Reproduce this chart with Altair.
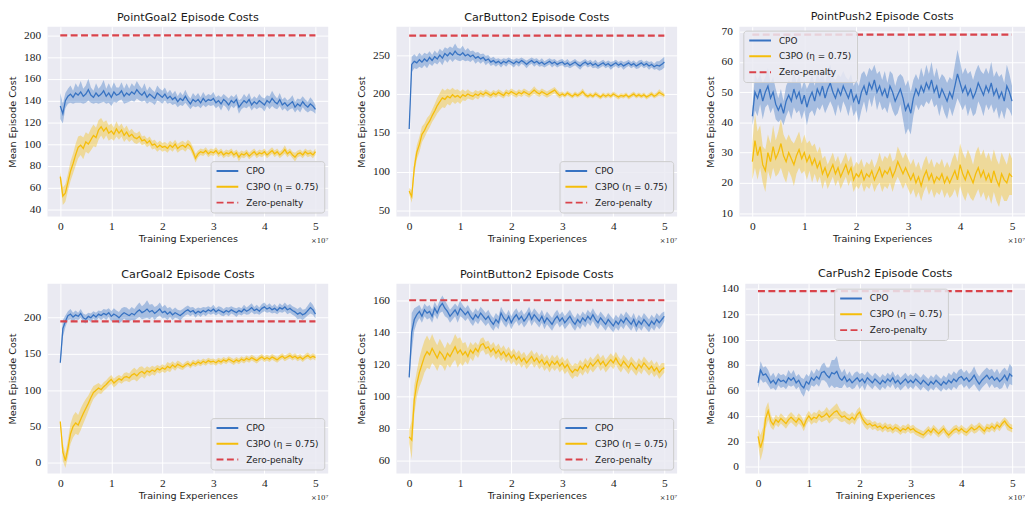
import altair as alt
import pandas as pd

# Training experiences (x 1e7)
X = [round(i * 0.05, 2) for i in range(101)]
SERIES = ["CPO", "C3PO (η = 0.75)", "Zero-penalty"]
COLORS = ["#3873c2", "#f5bd0a", "#d9434b"]

# ---------------- PointGoal2 ----------------
P1_CPO = [135,128,140,144,146,143,147,145,148,144, 146,150,145,143,147,144,146,149,144,147,
          143,148,145,146,149,144,147,145,148,146, 150,147,145,148,143,146,144,142,147,145,
          143,146,142,144,141,143,139,142,140,144, 140,137,141,139,141,138,142,139,141,140,
          142,138,140,137,141,139,136,140,138,141, 134,137,140,138,141,136,139,137,140,138,
          136,140,138,142,139,137,141,136,138,135, 137,139,134,137,135,139,136,134,137,135, 132]
P1_CPO_SD = [12,9,7,7,8,6,9,7,10,7, 8,10,7,6,9,7,8,10,7,9, 8,9,7,6,8,7,9,6,8,7, 8,7,6,8,6,7,6,6,7,6,
             6,6,5,6,5,6,5,6,5,6, 5,5,6,5,6,5,6,5,5,5, 6,5,5,6,5,5,6,5,5,5, 6,5,6,5,6,5,5,5,6,5,
             6,5,6,7,6,5,6,5,5,5, 5,6,5,5,6,5,5,5,6,5, 4]
P1_C3 = [70,52,55,65,75,82,90,97,99,96, 102,100,104,108,106,113,116,112,115,110,
         112,109,114,110,113,108,111,107,109,106, 105,107,103,104,101,103,99,100,97,99,
         97,98,96,99,97,100,96,98,99,97, 100,98,93,87,91,93,92,94,91,93,
         92,94,91,93,90,92,91,93,90,92, 88,91,90,92,89,91,93,90,92,91,
         93,90,92,94,91,93,90,92,95,91, 93,90,88,91,92,90,93,91,92,90, 93]
P1_C3_SD = [4,8,8,8,9,9,10,10,9,10, 9,9,10,10,9,9,8,8,7,7, 7,6,7,6,6,6,6,5,5,5, 5,5,4,4,4,4,4,4,4,4,
            4,4,4,4,4,4,4,4,4,4, 4,4,4,4,3,3,3,3,3,3, 3,3,3,3,3,3,3,3,3,3, 4,3,3,3,3,3,3,3,3,3,
            3,3,3,3,3,3,3,3,4,3, 3,3,4,3,3,3,3,3,3,3, 3]

# ---------------- CarButton2 ----------------
P2_CPO = [155,238,242,240,244,241,245,242,247,243, 248,245,250,246,252,249,253,250,255,251,
          250,253,249,251,248,250,246,248,245,247, 243,245,241,243,240,242,239,242,240,243,
          241,239,242,240,243,241,238,241,243,240, 242,239,241,238,240,242,239,241,238,240,
          241,238,240,237,239,241,238,236,239,241, 238,240,237,239,236,238,240,237,239,236,
          238,240,237,239,236,238,240,237,239,236, 238,240,237,239,236,238,235,237,236,238, 241]
P2_CPO_SD = [2,10,9,8,9,8,8,9,8,7, 8,7,8,9,8,9,8,9,10,8, 8,9,7,8,7,6,7,6,6,5, 6,5,5,5,5,4,5,4,5,4,
             4,5,4,5,4,4,5,4,4,5, 4,4,5,4,4,4,5,4,4,4, 4,4,5,4,4,4,4,5,4,4, 4,4,4,5,4,4,4,4,4,5,
             4,4,4,4,5,4,4,4,4,4, 5,4,4,4,5,4,4,5,6,7, 7]
P2_C3 = [75,68,105,125,135,148,153,160,165,172, 178,185,190,195,193,197,195,199,196,198,
         195,199,197,200,198,197,200,198,201,199, 202,200,198,201,199,202,200,198,202,200,
         203,201,199,202,200,203,201,199,202,205, 202,200,203,201,199,201,203,205,201,198,
         200,198,201,199,197,200,198,200,203,199, 197,199,197,200,198,196,199,197,199,197,
         200,198,196,198,197,199,196,198,200,197, 199,197,199,196,198,200,197,199,202,200, 198]
P2_C3_SD = [4,8,9,9,10,10,9,9,8,8, 9,10,11,12,11,10,10,9,9,8, 8,7,6,6,5,5,5,5,4,4, 4,4,4,4,4,4,4,4,4,4,
            4,4,4,4,4,4,4,4,4,5, 4,4,4,4,4,4,4,4,4,4, 3,3,3,3,3,3,3,3,4,3, 3,3,3,3,3,3,3,3,3,3,
            3,3,3,3,3,3,3,3,3,3, 3,3,3,3,3,3,3,3,4,3, 3]

# ---------------- PointPush2 ----------------
P3_CPO = [42,50,48,51,47,50,52,48,50,46, 44,46,43,47,49,47,51,48,50,46,
          49,45,48,50,47,51,49,52,48,51, 53,50,48,51,49,52,50,48,51,47,
          49,46,50,52,49,53,51,54,50,52, 49,51,48,52,50,47,49,51,48,44,
          46,43,48,51,49,52,50,53,51,54, 50,52,48,51,49,47,50,48,52,56,
          53,50,52,49,51,48,50,53,51,49, 52,50,53,49,51,48,50,47,52,50, 47]
P3_CPO_SD = [3,6,6,5,6,5,6,5,5,5, 4,5,4,5,5,6,6,5,6,5, 5,6,5,6,5,6,5,6,5,6, 6,5,6,5,6,5,5,6,5,5,
             5,6,6,5,6,5,6,5,6,5, 5,6,5,5,6,5,6,5,7,8, 8,7,6,5,5,6,5,6,5,6, 5,6,6,5,6,6,5,6,7,8,
             7,6,6,7,6,6,7,6,6,7, 6,6,7,6,6,7,6,6,7,6, 5]
P3_C3 = [27,34,29,32,26,24,30,27,32,28, 30,33,29,27,30,28,26,29,31,28,
         30,27,29,26,28,25,27,23,25,22, 24,26,23,25,22,24,26,23,25,21,
         23,22,24,21,23,22,24,21,23,25, 22,24,23,25,22,24,27,25,23,25,
         23,21,23,20,22,19,22,24,21,23, 20,22,21,23,20,22,20,22,24,21,
         26,23,21,24,22,20,23,25,22,24, 21,23,20,24,21,19,23,21,20,23, 22]
P3_C3_SD = [6,9,8,7,6,7,6,6,7,6, 7,8,7,7,6,6,7,6,6,5, 6,6,5,6,5,5,5,5,4,4, 4,4,4,4,4,4,4,4,4,4,
            4,4,4,4,4,4,4,4,4,5, 5,5,5,5,5,4,5,5,5,5, 5,5,5,5,5,5,5,5,5,5, 5,5,5,5,5,5,5,6,6,6,
            7,7,7,7,7,6,7,7,7,7, 7,7,7,7,7,7,7,7,6,7, 6]

# ---------------- CarGoal2 ----------------
P4_CPO = [138,185,195,203,205,201,204,202,206,200, 198,202,200,204,201,205,203,206,204,207,
          202,205,203,200,204,207,205,203,206,204, 208,211,207,209,212,208,210,206,209,212,
          207,209,205,208,204,207,205,203,206,209, 211,208,210,206,209,207,210,208,211,209,
          212,208,211,209,207,210,208,211,209,207, 210,208,212,209,211,214,210,212,209,213,
          215,212,214,211,213,210,214,212,215,211, 213,210,208,205,207,204,206,210,214,211, 205]
P4_CPO_SD = [3,12,8,6,7,6,6,5,6,6, 6,5,6,5,6,5,6,6,7,6, 7,8,7,8,9,8,9,8,9,8, 9,10,9,10,12,10,9,9,8,9,
             8,9,8,7,7,7,6,7,6,6, 6,6,5,6,5,6,5,6,5,5, 6,5,5,6,5,5,6,5,5,6, 5,5,6,5,6,6,5,6,5,6,
             6,5,6,5,6,5,6,5,6,6, 6,6,6,7,8,7,6,7,8,7, 6]
P4_C3 = [57,15,3,20,40,50,55,52,60,68, 75,82,90,97,100,103,101,105,108,112,
         115,110,113,116,114,118,119,117,121,123, 120,124,126,123,127,125,128,126,130,128,
         131,129,133,131,135,132,136,134,132,135, 137,134,138,136,139,137,140,138,141,139,
         140,138,141,139,142,140,143,141,139,142, 140,143,141,144,142,145,143,141,144,146,
         143,145,143,146,144,142,145,147,144,146, 148,145,147,144,146,143,146,148,145,147, 145]
P4_C3_SD = [2,12,10,12,14,15,15,14,15,14, 13,11,10,9,8,7,6,6,6,6, 6,6,6,5,5,6,6,6,7,8, 8,8,7,7,6,6,6,6,5,5,
            5,5,6,6,5,5,5,5,4,4, 4,4,4,4,4,4,4,4,4,4, 4,4,4,4,4,4,4,4,4,4, 4,4,4,4,4,4,4,4,4,4,
            4,4,4,4,4,4,4,4,4,4, 4,4,4,4,4,4,4,4,4,4, 4]

# ---------------- PointButton2 ----------------
P5_CPO = [112,140,148,151,153,150,154,152,153,150, 155,152,156,158,155,153,150,152,154,151,
          155,153,151,153,150,148,151,149,152,150, 148,150,147,145,148,146,152,149,147,150,
          146,149,151,148,150,147,149,152,148,151, 149,147,150,146,149,147,145,148,150,147,
          149,146,148,150,147,145,148,146,149,147, 150,148,151,148,146,149,147,145,148,146,
          144,147,145,148,146,149,147,145,148,144, 147,145,148,146,144,147,145,148,146,148, 150]
P5_CPO_SD = [2,12,7,5,4,4,4,4,4,4, 4,4,4,5,5,4,4,4,4,5, 5,4,4,4,4,4,4,4,4,4, 4,4,4,4,4,4,4,4,4,4,
             4,4,4,4,4,4,4,4,4,4, 4,4,4,4,4,4,4,4,4,4, 4,4,4,4,4,4,4,4,4,4, 4,4,4,4,4,4,4,4,4,4,
             4,4,4,4,4,4,4,4,4,4, 4,4,4,4,4,4,4,4,4,4, 3]
P5_C3 = [75,73,98,108,115,120,125,128,126,130, 127,124,128,126,123,127,125,128,131,127,
         129,126,128,125,129,127,130,128,132,133, 130,131,128,130,127,129,126,128,125,127,
         124,126,123,125,122,124,121,123,125,122, 124,121,123,120,122,119,122,120,122,119,
         121,118,120,117,115,117,116,119,117,120, 118,121,119,121,123,120,122,119,121,123,
         121,124,121,119,122,120,118,121,119,117, 120,118,121,119,117,119,116,118,115,117, 118]
P5_C3_SD = [4,12,9,8,9,10,10,10,9,9, 8,8,8,7,7,7,7,7,8,9, 8,7,6,5,5,5,4,4,4,4, 4,4,4,4,4,4,4,4,4,4,
            4,4,4,4,4,4,4,4,4,4, 4,4,4,4,4,4,4,4,4,4, 4,4,4,4,4,4,4,4,4,4, 4,4,4,4,4,4,4,4,4,4,
            4,4,4,4,4,4,4,4,4,4, 4,4,4,4,4,4,4,4,4,4, 3]

# ---------------- CarPush2 ----------------
P6_CPO = [66,76,72,73,70,66,68,65,69,67, 68,66,70,68,70,66,68,64,62,67,
          65,70,68,71,69,74,75,72,70,74, 73,75,70,68,71,67,69,66,68,70,
          67,69,66,70,68,66,69,67,65,68, 66,69,67,70,66,68,65,67,69,66,
          68,66,69,67,65,68,66,64,67,65, 68,66,64,67,65,68,66,69,67,70,
          71,68,70,67,69,72,68,65,68,70, 72,69,71,68,70,67,69,72,68,73, 71]
P6_CPO_SD = [4,7,6,6,6,5,6,5,5,5, 5,5,6,5,6,5,5,6,7,6, 6,6,5,6,6,6,7,6,8,10, 11,12,8,6,6,5,6,5,6,5,
             6,5,6,5,5,5,5,5,5,5, 5,5,5,5,5,5,5,5,5,5, 5,5,5,5,5,5,5,5,5,5, 5,5,5,5,5,6,6,6,6,6,
             6,6,6,6,6,7,6,6,6,6, 6,7,6,6,7,6,7,6,7,8, 7]
P6_C3 = [24,15,22,38,44,36,33,37,35,38, 36,34,37,39,37,35,38,36,32,37,
         40,37,39,38,41,39,40,42,39,41, 43,44,41,39,40,38,37,39,37,41,
         43,38,35,33,34,32,33,31,32,30, 32,30,31,29,31,30,28,30,29,31,
         29,30,28,27,26,25,27,29,27,30, 28,26,28,30,27,25,27,29,30,28,
         30,28,27,29,31,29,30,32,30,28, 31,30,32,30,33,31,34,36,33,31, 30]
P6_C3_SD = [6,10,9,8,7,5,4,4,4,4, 4,4,4,4,4,4,4,4,4,4, 4,4,4,4,4,4,4,5,5,5, 5,6,5,4,4,4,4,4,4,4,
            4,4,4,4,3,3,3,3,3,3, 3,3,3,3,3,3,3,3,3,3, 3,3,3,3,3,3,3,3,3,3, 3,3,3,3,3,3,3,3,3,3,
            3,3,3,3,3,3,3,3,3,3, 3,3,3,3,3,3,3,3,4,3, 3]

ZERO_X = [0, 5]
PANELS = [
    dict(title="PointGoal2 Episode Costs", cpo=P1_CPO, cpo_sd=P1_CPO_SD, c3=P1_C3, c3_sd=P1_C3_SD,
         zero=200, ydom=[33.4, 208], yticks=[40, 60, 80, 100, 120, 140, 160, 180, 200],
         legend="bottom-right", w=284, ext=26),
    dict(title="CarButton2 Episode Costs", cpo=P2_CPO, cpo_sd=P2_CPO_SD, c3=P2_C3, c3_sd=P2_C3_SD,
         zero=275, ydom=[42.4, 286.5], yticks=[50, 100, 150, 200, 250],
         legend="bottom-right", w=284, ext=26),
    dict(title="PointPush2 Episode Costs", cpo=P3_CPO, cpo_sd=P3_CPO_SD, c3=P3_C3, c3_sd=P3_C3_SD,
         zero=69, ydom=[8.9, 71.6], yticks=[10, 20, 30, 40, 50, 60, 70],
         legend="top-left", w=289, ext=20),
    dict(title="CarGoal2 Episode Costs", cpo=P4_CPO, cpo_sd=P4_CPO_SD, c3=P4_C3, c3_sd=P4_C3_SD,
         zero=195, ydom=[-14.6, 247], yticks=[0, 50, 100, 150, 200],
         legend="bottom-right", w=284, ext=26),
    dict(title="PointButton2 Episode Costs", cpo=P5_CPO, cpo_sd=P5_CPO_SD, c3=P5_C3, c3_sd=P5_C3_SD,
         zero=160, ydom=[52.2, 170.3], yticks=[60, 80, 100, 120, 140, 160],
         legend="bottom-right", w=284, ext=26),
    dict(title="CarPush2 Episode Costs", cpo=P6_CPO, cpo_sd=P6_CPO_SD, c3=P6_C3, c3_sd=P6_C3_SD,
         zero=138, ydom=[-5.2, 143.9], yticks=[0, 20, 40, 60, 80, 100, 120, 140],
         legend="top-center", w=283, ext=26),
]

H = 192
LABEL_FONT = "Liberation Serif"
TEXT_FONT = "DejaVu Sans"


def make_panel(p):
    band_rows, line_rows = [], []
    for name, mean, sd in ((SERIES[0], p["cpo"], p["cpo_sd"]), (SERIES[1], p["c3"], p["c3_sd"])):
        for xi, m, s in zip(X, mean, sd):
            band_rows.append(dict(x=xi, series=name, lo=m - s, hi=m + s))
            line_rows.append(dict(x=xi, series=name, y=m))
    for xi in ZERO_X:
        line_rows.append(dict(x=xi, series=SERIES[2], y=p["zero"]))
    band_df = pd.DataFrame(band_rows)
    line_df = pd.DataFrame(line_rows)

    xscale = alt.Scale(domain=[-0.25, 5.25], nice=False, zero=False)
    yscale = alt.Scale(domain=p["ydom"], nice=False, zero=False)
    xaxis = alt.Axis(values=[0, 1, 2, 3, 4, 5], format="d", title="Training Experiences",
                     labelPadding=4, titlePadding=2)
    yaxis = alt.Axis(values=p["yticks"], format="d", title="Mean Episode Cost",
                     labelPadding=7, minExtent=p["ext"], maxExtent=p["ext"], titlePadding=4)

    lkw = dict(title=None, labelFont=TEXT_FONT, labelFontSize=9, labelColor="#222222",
               symbolType="stroke", symbolSize=484, symbolStrokeWidth=2, clipHeight=10,
               rowPadding=6, labelOffset=7, padding=5,
               fillColor="rgba(234,234,242,0.85)", strokeColor="#cccccc",
               cornerRadius=3, offset=4)
    if p["legend"] == "top-center":
        lkw.update(orient="none", legendX=90, legendY=5)
    else:
        lkw["orient"] = p["legend"]
    leg = alt.Legend(**lkw)

    band = alt.Chart(band_df).mark_area(opacity=0.38, clip=True).encode(
        x=alt.X("x:Q", scale=xscale, axis=xaxis),
        y=alt.Y("lo:Q", scale=yscale, axis=yaxis),
        y2="hi:Q",
        fill=alt.Fill("series:N", scale=alt.Scale(domain=SERIES[:2], range=COLORS[:2]), legend=None),
    )
    line = alt.Chart(line_df).mark_line(clip=True).encode(
        x=alt.X("x:Q", scale=xscale, axis=xaxis),
        y=alt.Y("y:Q", scale=yscale, axis=yaxis),
        color=alt.Color("series:N", scale=alt.Scale(domain=SERIES, range=COLORS), legend=leg, sort=SERIES),
        strokeDash=alt.StrokeDash("series:N", scale=alt.Scale(domain=SERIES, range=[[1, 0], [1, 0], [7, 3.5]]),
                                  legend=leg, sort=SERIES),
        strokeWidth=alt.condition(alt.datum.series == SERIES[2], alt.value(2.2), alt.value(1.3)),
        detail="series:N",
    )
    note = alt.Chart(pd.DataFrame({"t": ["×10⁷"]})).mark_text(
        align="right", baseline="middle", font="DejaVu Serif", fontSize=7, color="#222222"
    ).encode(x=alt.value(p["w"]), y=alt.value(H + 25), text="t:N")

    return alt.layer(band, line, note).properties(
        width=p["w"], height=H,
        title=alt.TitleParams(p["title"], font=TEXT_FONT, fontSize=11.3, fontWeight="normal",
                              color="#1a1a1a", offset=3, anchor="middle"),
    )


def row(panels):
    return alt.hconcat(*[make_panel(p) for p in panels], spacing=29).resolve_scale(
        x="independent", y="independent", color="independent", fill="independent",
        strokeDash="independent"
    ).resolve_legend(color="independent", strokeDash="independent")


chart = alt.vconcat(row(PANELS[:3]), row(PANELS[3:]), spacing=24).resolve_scale(
    x="independent", y="independent", color="independent", fill="independent",
    strokeDash="independent"
).resolve_legend(color="independent", strokeDash="independent").properties(
    padding=0, background="white"
).configure_view(fill="#eaeaf2", stroke=None).configure_axis(
    domain=False, ticks=False, gridColor="white", gridWidth=1,
    labelFont=LABEL_FONT, labelFontSize=11.5, labelColor="#222222",
    titleFont=TEXT_FONT, titleFontSize=9.7, titleFontWeight="normal", titleColor="#1a1a1a",
)

chart.save("out.html", embed_options={"renderer": "svg", "actions": False})
